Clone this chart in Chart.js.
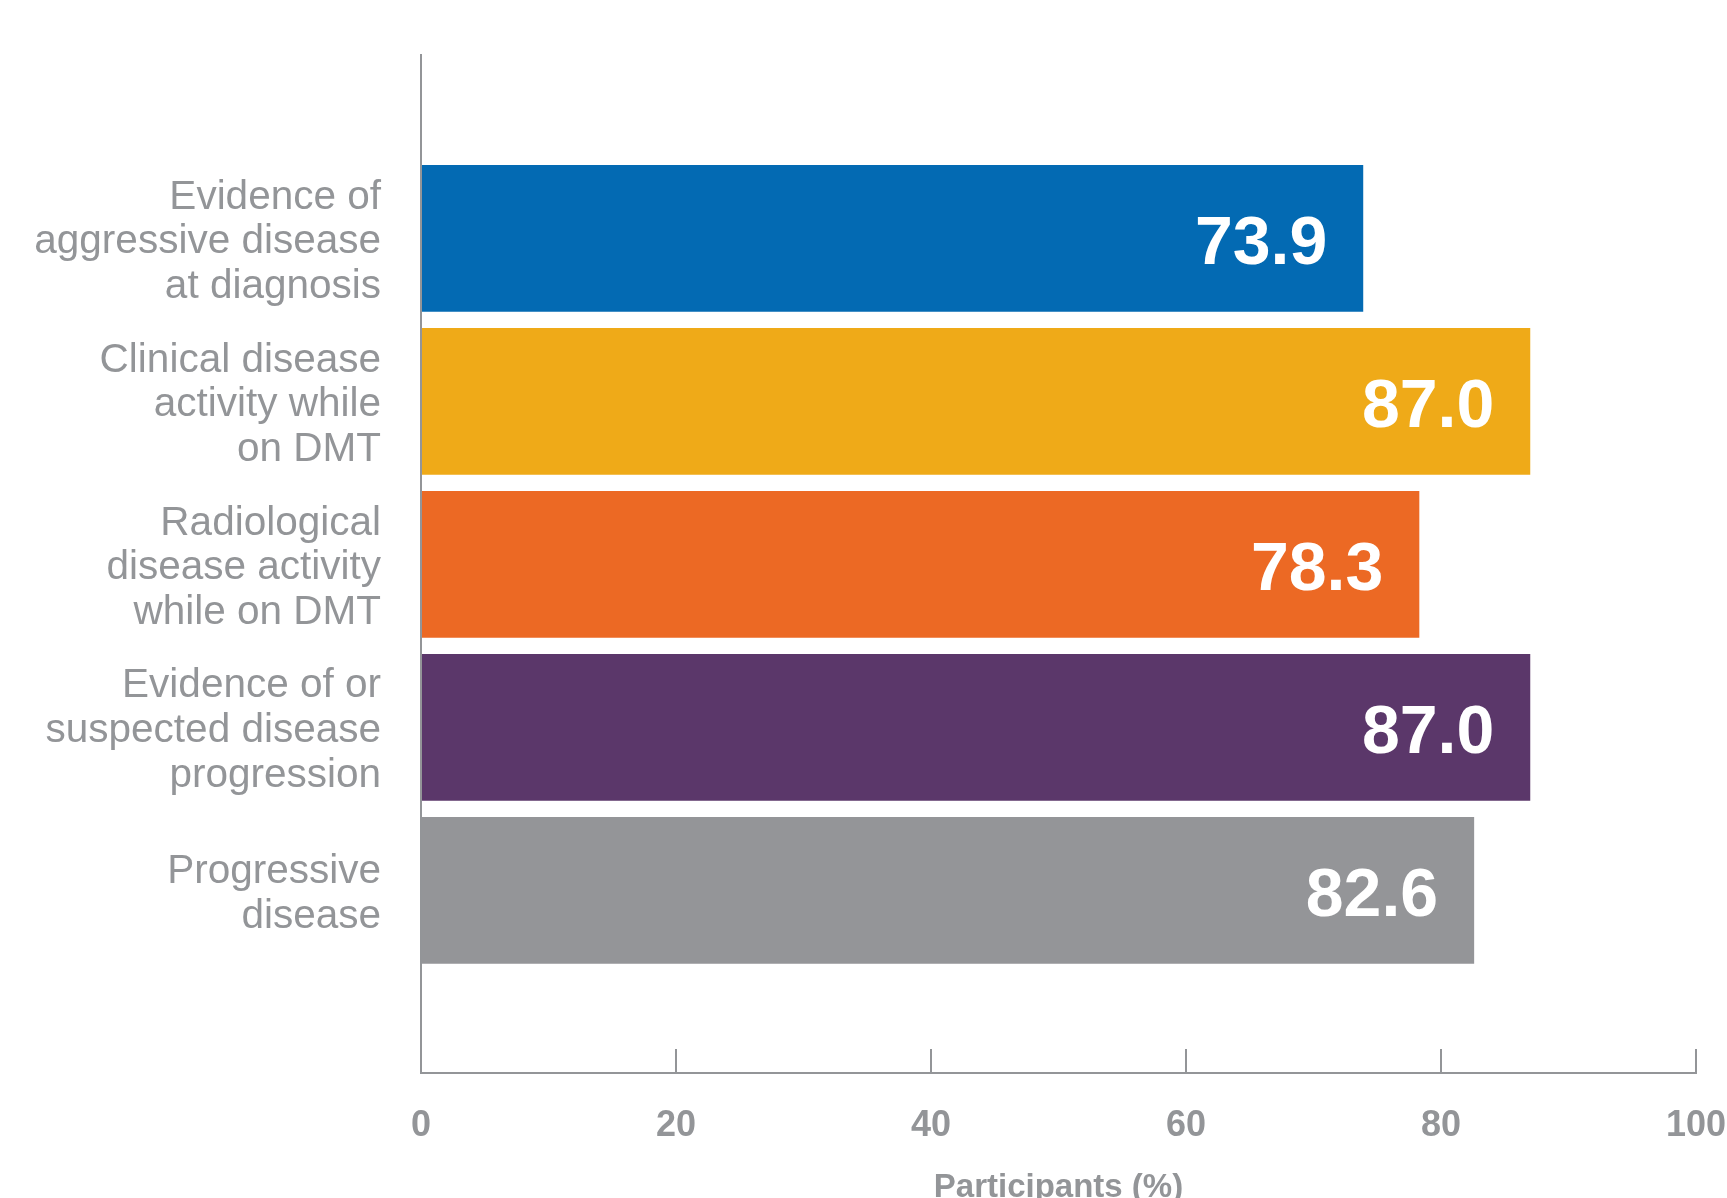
<!DOCTYPE html>
<html>
<head>
<meta charset="utf-8">
<title>Participants (%)</title>
<script src="https://cdn.jsdelivr.net/npm/chart.js@4.4.1/dist/chart.umd.min.js"></script>
<style>
  html, body { margin: 0; padding: 0; background: #fff; }
  canvas { display: block; }
</style>
</head>
<body>
<canvas id="chart" width="1727" height="1198"></canvas>
<script>
// categories (one array of lines per bar)
const categories = [
  ['Evidence of', 'aggressive disease', 'at diagnosis'],
  ['Clinical disease', 'activity while', 'on DMT'],
  ['Radiological', 'disease activity', 'while on DMT'],
  ['Evidence of or', 'suspected disease', 'progression'],
  ['Progressive', 'disease']
];
const values = [73.9, 87.0, 78.3, 87.0, 82.6];
const xTicks = [0, 20, 40, 60, 80, 100];
const xTitle = 'Participants (%)';

const barColors = ['#036AB3', '#EFAA18', '#EC6924', '#5B376A', '#949598'];
const gray = '#939598';
const font = '"Liberation Sans", Arial, Helvetica, sans-serif';

// no extra room for label overflow, the area is set by layout padding
function noPadding(scale) {
  scale.paddingLeft = 0;
  scale.paddingRight = 0;
  scale.paddingTop = 0;
  scale.paddingBottom = 0;
}

// white value inside the end of each bar
const valueLabels = {
  id: 'valueLabels',
  afterDatasetsDraw(chart) {
    const ctx = chart.ctx;
    const meta = chart.getDatasetMeta(0);
    ctx.save();
    ctx.fillStyle = '#fff';
    ctx.font = 'bold 68px ' + font;
    ctx.textAlign = 'right';
    ctx.textBaseline = 'middle';
    meta.data.forEach((bar, i) => {
      ctx.fillText(values[i].toFixed(1), bar.x - 36, bar.y + 7);
    });
    ctx.restore();
  }
};

new Chart(document.getElementById('chart'), {
  type: 'bar',
  data: {
    datasets: [{
      data: values.map((v, i) => ({ x: v, y: i })),
      backgroundColor: barColors,
      borderWidth: 0,
      barPercentage: 0.9,
      categoryPercentage: 1
    }]
  },
  options: {
    indexAxis: 'y',
    responsive: false,
    animation: false,
    layout: { padding: { top: 55, right: 31, left: 0, bottom: 0 } },
    plugins: {
      legend: { display: false },
      tooltip: { enabled: false }
    },
    scales: {
      x: {
        type: 'linear',
        min: 0,
        max: 100,
        bounds: 'data',
        afterBuildTicks(scale) {
          scale.ticks = xTicks.map(v => ({ value: v }));
        },
        afterFit(scale) {
          scale.height = 125;
          noPadding(scale);
        },
        border: { display: true, color: gray, width: 2 },
        grid: {
          drawOnChartArea: false,
          drawTicks: true,
          tickLength: -24,
          color: gray,
          lineWidth: 2
        },
        ticks: {
          padding: 55,
          color: gray,
          font: { family: font, size: 36, weight: 'bold' }
        },
        title: {
          display: true,
          text: xTitle,
          color: gray,
          font: { family: font, size: 33, weight: 'bold' },
          padding: { top: 0, bottom: -10 }
        }
      },
      y: {
        type: 'linear',
        reverse: true,
        offset: false,
        bounds: 'data',
        min: -1.1245,
        max: 5.121,
        afterBuildTicks(scale) {
          scale.ticks = categories.map((c, i) => ({ value: i }));
        },
        afterFit(scale) {
          scale.width = 421;
          noPadding(scale);
        },
        border: { display: true, color: gray, width: 2 },
        grid: { display: false, drawTicks: false, offset: false },
        ticks: {
          autoSkip: false,
          padding: 40,
          labelOffset: 4,
          color: gray,
          font: { family: font, size: 40.5, lineHeight: 1.11 },
          callback: (v) => categories[v]
        }
      }
    }
  },
  plugins: [valueLabels]
});
</script>
</body>
</html>
